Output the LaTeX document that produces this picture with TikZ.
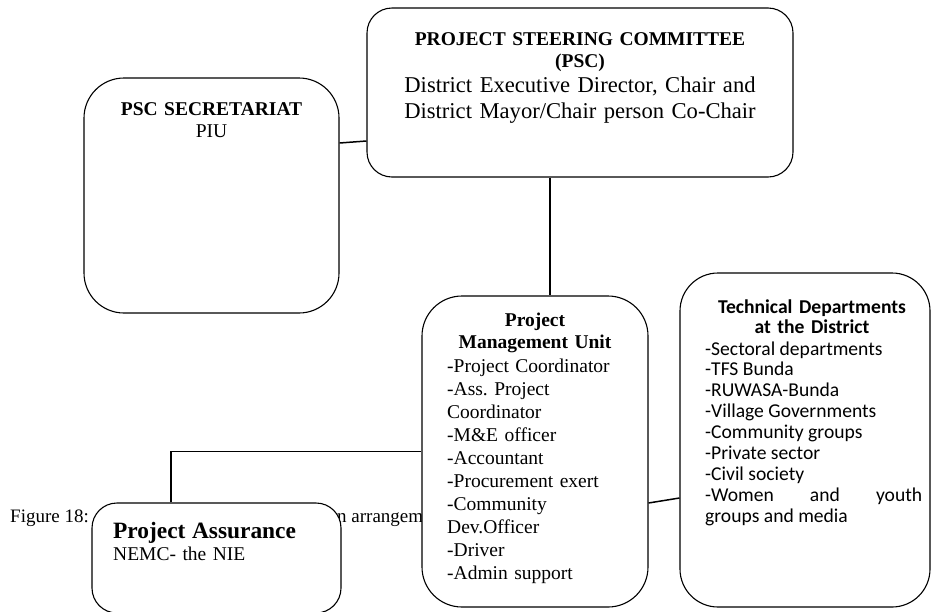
\documentclass[tikz,border=0pt]{standalone}
\usepackage{fontspec}
\setmainfont{Liberation Serif}
\newfontfamily\calibrifont{Carlito}
\frenchspacing
\begin{document}
\begin{tikzpicture}[x=1pt, y=-1pt,
    box/.style={draw, line width=1.1pt, fill=white, rounded corners=#1, inner sep=0pt},
    box/.default=40pt,
    link/.style={line width=1.5pt},
    txt/.style={inner sep=0pt, font=\fontsize{19.5}{22.4}\selectfont}]
  \useasboundingbox (0,0) rectangle (931,611);
  % caption, partly hidden by the boxes
  \draw (10,522) node (fig_no) [txt, anchor=base west, font=\fontsize{19}{21}\selectfont] {Figure 18:};
  \draw (337,522) node (fig_rest) [txt, anchor=base west, font=\fontsize{19}{21}\selectfont] {n arrangem};

  \draw (580,92.5) node (psc) [box=25pt, minimum width=426pt, minimum height=169pt] {};
  \draw (211.5,195.5) node (psc_sec) [box, minimum width=255pt, minimum height=235pt] {};
  \draw (535,451.5) node (pmu) [box, minimum width=226pt, minimum height=311pt] {};
  \draw (805,440) node (tech_dep) [box=38pt, minimum width=250pt, minimum height=334pt] {};
  \draw (216.5,558) node (assurance) [box=25pt, minimum width=249pt, minimum height=110pt] {};

  \draw (580,45) node (psc_title) [txt, anchor=base, text width=420pt, align=center, font=\fontsize{19.5}{22}\selectfont\bfseries] {PROJECT STEERING COMMITTEE\\(PSC)};
  \draw (580,92) node (psc_body) [txt, anchor=base, text width=420pt, align=center, font=\fontsize{22.6}{26}\selectfont] {District Executive Director, Chair and\\District Mayor/Chair person Co-Chair};

  \draw (211.5,115) node (sec_title) [txt, anchor=base, text width=250pt, align=center] {\textbf{PSC SECRETARIAT}\\PIU};

  \draw (535,326) node (pmu_title) [txt, anchor=base, text width=220pt, align=center, font=\fontsize{19.5}{22.5}\selectfont\bfseries] {Project\\Management Unit};
  \draw (447,372) node (pmu_staff) [txt, anchor=base west, text width=195pt, align=left, font=\fontsize{19.5}{23.1}\selectfont] {-Project Coordinator\\-Ass. Project\\Coordinator\\-M\&E officer\\-Accountant\\-Procurement exert\\-Community\\Dev.Officer\\-Driver\\-Admin support};

  \draw (812,313) node (tech_title) [txt, anchor=base, text width=240pt, align=center, font=\calibrifont\fontsize{19.6}{20.9}\selectfont\bfseries] {Technical Departments\\at the District};
  \draw (705,355) node (tech_list) [txt, anchor=base west, text width=217pt, align=justify, font=\calibrifont\fontsize{19.6}{20.9}\selectfont] {-Sectoral departments\\-TFS Bunda\\-RUWASA-Bunda\\-Village Governments\\-Community groups\\-Private sector\\-Civil society\\-Women and youth\linebreak groups and media};

  \draw (113,538) node (assurance_title) [txt, anchor=base west, text width=220pt, align=left] {{\fontsize{23.4}{26}\selectfont\bfseries Project Assurance}\\NEMC- the NIE};

  \draw[link] (psc_sec.east |- 0,143) -- (psc.west |- 0,141);
  \draw[link, line width=2pt] (psc.south -| 550,0) -- (pmu.north -| 550,0);
  \draw[link] (pmu.east |- 0,503) -- (tech_dep.west |- 0,498);
  \draw[link] (assurance.north -| 171,0) |- (pmu.west);
\end{tikzpicture}
\end{document}
